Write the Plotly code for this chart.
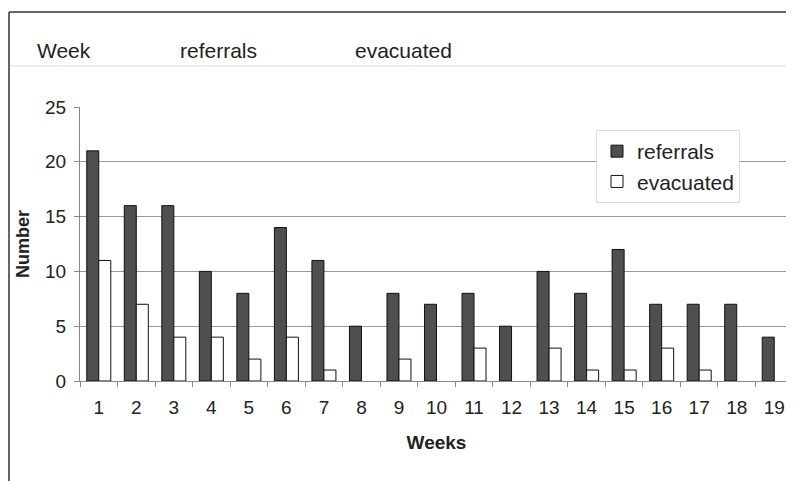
import plotly.graph_objects as go

weeks = [str(i) for i in range(1, 20)]
referrals = [21, 16, 16, 10, 8, 14, 11, 5, 8, 7, 8, 5, 10, 8, 12, 7, 7, 7, 4]
evacuated = [11, 7, 4, 4, 2, 4, 1, 0, 2, 0, 3, 0, 3, 1, 1, 3, 1, 0, 0]
header_labels = ["Week", "referrals", "evacuated"]

# The page adds an 8px body margin; work in reference pixel coords and offset.
OFF = 8
W, H = 794 - OFF, 481 - OFF
L, R, T, B = 80 - OFF, 1, 107 - OFF, 481 - 381
PW, PH = W - L - R, H - T - B

def px(x):
    return (x - OFF - L) / PW

def py(y):
    return 1 - (y - OFF - T) / PH

FONT = "Liberation Sans, Arial, sans-serif"

fig = go.Figure()
fig.add_trace(go.Bar(x=weeks, y=referrals, name="referrals",
                     marker=dict(color="#4f4f4f",
                                 line=dict(color="#111111",
                                           width=[1 if v else 0 for v in referrals]))))
fig.add_trace(go.Bar(x=weeks, y=evacuated, name="evacuated",
                     marker=dict(color="#ffffff",
                                 line=dict(color="#111111",
                                           width=[1 if v else 0 for v in evacuated]))))

fig.update_layout(
    width=W, height=H,
    margin=dict(l=L, r=R, t=T, b=B),
    paper_bgcolor="white", plot_bgcolor="white",
    font=dict(family=FONT, size=20, color="#222222"),
    barmode="group", bargap=0.36, bargroupgap=0,
    showlegend=True,
    legend=dict(x=px(596), y=py(130), xanchor="left", yanchor="top",
                bgcolor="white", bordercolor="#dddddd", borderwidth=1,
                font=dict(size=21), tracegroupgap=0, itemwidth=30),
    xaxis=dict(showline=True, linecolor="#888888", linewidth=1,
               ticks="outside", tickson="boundaries", ticklen=5, tickcolor="#888888",
               tickfont=dict(size=19), ticklabelstandoff=9,
               title=dict(text="<b>Weeks</b>", font=dict(size=19), standoff=18)),
    yaxis=dict(range=[0, 25], dtick=5, showline=True, linecolor="#888888", linewidth=1,
               showgrid=True, gridcolor="#999999", gridwidth=1,
               ticks="outside", ticklen=5, tickcolor="#888888",
               tickfont=dict(size=19), zeroline=False, ticklabelstandoff=4,
               title=dict(text="<b>Number</b>", font=dict(size=18), standoff=10)),
)

# outer frame lines and header separator
fig.add_shape(type="line", xref="paper", yref="paper",
              x0=px(9), x1=px(794), y0=py(12), y1=py(12),
              line=dict(color="#333333", width=1.5))
fig.add_shape(type="line", xref="paper", yref="paper",
              x0=px(9), x1=px(9), y0=py(12), y1=py(481),
              line=dict(color="#333333", width=1.5))
fig.add_shape(type="line", xref="paper", yref="paper",
              x0=px(10), x1=px(794), y0=py(66), y1=py(66),
              line=dict(color="#dddddd", width=1))

for label, x in zip(header_labels, [35, 178, 353]):
    fig.add_annotation(text=label, xref="paper", yref="paper",
                       x=px(x), y=py(50), xanchor="left", yanchor="middle",
                       showarrow=False, font=dict(size=21, color="#222222"))

fig.write_html("out.html")
